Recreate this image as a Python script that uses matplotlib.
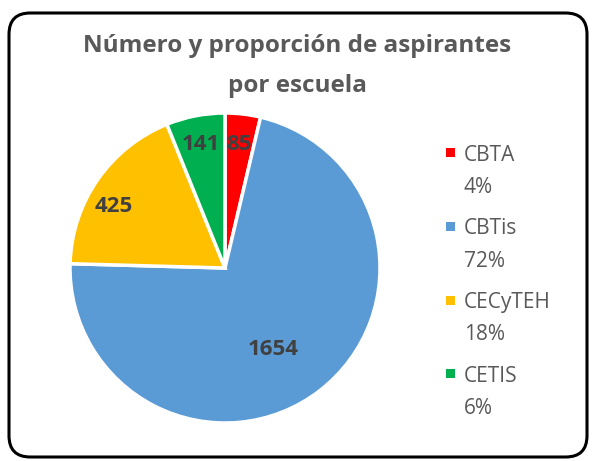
import matplotlib
matplotlib.use("Agg")
import matplotlib.pyplot as plt
import numpy as np
from matplotlib.patches import FancyBboxPatch, Rectangle

categories = ["CBTA", "CBTis", "CECyTEH", "CETIS"]
values = [85, 1654, 425, 141]
percent_labels = ["4%", "72%", "18%", "6%"]
colors = ["#FF0000", "#5B9BD5", "#FFC000", "#00B050"]
title = "Número y proporción de aspirantes\npor escuela"

W, H = 592, 461
fig = plt.figure(figsize=(W / 100, H / 100), dpi=100)
fig.patch.set_facecolor("white")


def fx(px):
    return px / W


def fy(py):
    return 1 - py / H


# rounded border
border = FancyBboxPatch((fx(9), fy(457)), 578 / W, 444 / H,
                        boxstyle="round,pad=0,rounding_size=0.036",
                        transform=fig.transFigure, fill=False,
                        edgecolor="black", linewidth=2.2, mutation_aspect=W / H)
fig.patches.append(border)

font = "Open Sans"
for line, base in zip(title.split("\n"), [52, 92]):
    fig.text(fx(297), fy(base), line, ha="center", va="baseline",
             fontsize=17.5, fontweight="bold", color="#595959", family=font)

cx, cy, R = 225, 268, 155
ax = fig.add_axes([fx(cx - R), fy(cy + R), 2 * R / W, 2 * R / H])
wedges, _ = ax.pie(values, colors=colors, startangle=90, counterclock=False,
                   wedgeprops=dict(edgecolor="white", linewidth=2.5))
ax.set_xlim(-1, 1)
ax.set_ylim(-1, 1)
ax.axis("off")

label_r = [0.80, 0.61, 0.82, 0.81]
label_dang = [0, -7, 6, 0]
for w, v, r, da in zip(wedges, values, label_r, label_dang):
    ang = np.deg2rad((w.theta1 + w.theta2) / 2 + da)
    ax.text(r * np.cos(ang), r * np.sin(ang), str(v), ha="center", va="center",
            fontsize=16, fontweight="bold", color="#404040", family=font)

# legend (square marker + two-line label)
y0, pitch, inner = 153, 73.5, 32
for i, (cat, pct, col) in enumerate(zip(categories, percent_labels, colors)):
    yc = y0 + i * pitch
    fig.patches.append(Rectangle((fx(446), fy(yc + 4.5)), 9 / W, 9 / H,
                                 transform=fig.transFigure, facecolor=col,
                                 edgecolor="none"))
    fig.text(fx(464), fy(yc), cat, ha="left", va="center_baseline",
             fontsize=15, color="#595959", family=font)
    fig.text(fx(464), fy(yc + inner), pct, ha="left", va="center_baseline",
             fontsize=15, color="#595959", family=font)

fig.savefig("out.png", dpi=100)
